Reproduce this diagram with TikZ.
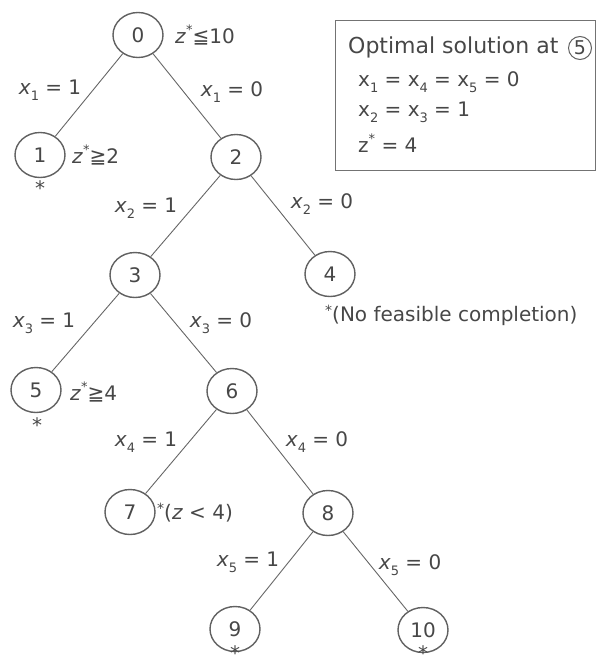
\documentclass[tikz,border=0pt]{standalone}
\usepackage{fontspec}
\setmainfont{DejaVu Sans}
\usetikzlibrary{shapes.geometric}
\newcommand\xsub[2]{#1\raisebox{-0.3em}{\fontsize{13}{13}\selectfont #2}}
\newcommand\zst{\textit{z}\raisebox{0.45em}{\fontsize{13}{13}\selectfont *}}
\newcommand\myast{\raisebox{0.3em}{\fontsize{14}{14}\selectfont *}}
\begin{document}
\begin{tikzpicture}[x=1pt,y=-1pt,
  every node/.style={text=black!72,font=\fontsize{20}{24}\selectfont},
  bb/.style={draw=black!62,line width=1.4pt,ellipse,minimum width=50pt,minimum height=45pt,inner sep=0pt},
  lab/.style={inner sep=0pt},
  conn/.style={draw=black!60,line width=0.9pt}]
\useasboundingbox (0,0) rectangle (597,669);
% tree nodes
\node[bb] (n0) at (138,35) {0};
\node[bb] (n1) at (40,155) {1};
\node[bb] (n2) at (236,157) {2};
\node[bb] (n3) at (135,275) {3};
\node[bb] (n4) at (330,274) {4};
\node[bb] (n5) at (36,390) {5};
\node[bb] (n6) at (232,391) {6};
\node[bb] (n7) at (130,512) {7};
\node[bb] (n8) at (328,513) {8};
\node[bb] (n9) at (235,629) {9};
\node[bb] (n10) at (423,630) {10};
% connectors
\draw[conn] (n0) -- (n1);
\draw[conn] (n0) -- (n2);
\draw[conn] (n2) -- (n3);
\draw[conn] (n2) -- (n4);
\draw[conn] (n3) -- (n5);
\draw[conn] (n3) -- (n6);
\draw[conn] (n6) -- (n7);
\draw[conn] (n6) -- (n8);
\draw[conn] (n8) -- (n9);
\draw[conn] (n8) -- (n10);
% branch labels
\node[lab] (l01) at (50,90) {\xsub{\textit{x}}{1} = 1};
\node[lab] (l02) at (232,92) {\xsub{\textit{x}}{1} = 0};
\node[lab] (l23) at (146,208) {\xsub{\textit{x}}{2} = 1};
\node[lab] (l24) at (322,204) {\xsub{\textit{x}}{2} = 0};
\node[lab] (l35) at (44,323) {\xsub{\textit{x}}{3} = 1};
\node[lab] (l36) at (221,323) {\xsub{\textit{x}}{3} = 0};
\node[lab] (l67) at (146,442) {\xsub{\textit{x}}{4} = 1};
\node[lab] (l68) at (317,442) {\xsub{\textit{x}}{4} = 0};
\node[lab] (l89) at (248,562) {\xsub{\textit{x}}{5} = 1};
\node[lab] (l810) at (410,565) {\xsub{\textit{x}}{5} = 0};
% bounds and marks
\node[lab,anchor=west] (z0) at (175,35) {\zst≦10};
\node[lab,anchor=west] (z1) at (72,155) {\zst≧2};
\node[lab,anchor=west] (z5) at (70,392) {\zst≧4};
\node[lab] (s1) at (40,188) {*};
\node[lab] (s5) at (37,425) {*};
\node[lab,anchor=north] (s9) at (235,645) {*};
\node[lab,anchor=north] (s10) at (423,645) {*};
\node[lab,anchor=west] (nf) at (325,315) {\myast(No feasible completion)};
\node[lab,anchor=west] (z7) at (157,513) {\myast(\textit{z} < 4)};
% optimal box
\node[draw=black!55,line width=0.8pt,minimum width=260pt,minimum height=150pt,anchor=north west,inner sep=0pt] (box) at (335,20) {};
\node[lab,anchor=west,font=\fontsize{22}{26}\selectfont] (t0) at (348,47) {Optimal solution at};
\node[draw=black!62,line width=1pt,circle,minimum size=23pt,inner sep=0pt,font=\fontsize{19}{22}\selectfont] (t0c) at (580,48) {5};
\node[lab,anchor=west] (t1) at (358,82) {\xsub{x}{1} = \xsub{x}{4} = \xsub{x}{5} = 0};
\node[lab,anchor=west] (t2) at (358,112) {\xsub{x}{2} = \xsub{x}{3} = 1};
\node[lab,anchor=west] (t3) at (358,143) {z\raisebox{0.45em}{\fontsize{13}{13}\selectfont *} = 4};
\end{tikzpicture}
\end{document}
